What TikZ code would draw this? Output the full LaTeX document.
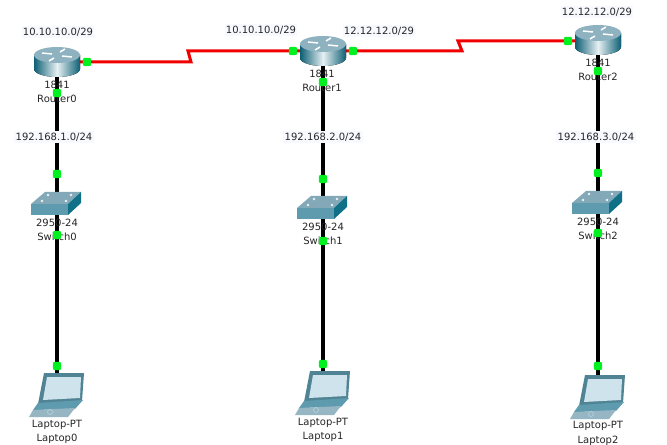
\documentclass[tikz,border=0pt]{standalone}
\usepackage{fontspec}
\setmainfont{DejaVu Sans}
\usepackage{xcolor}
\definecolor{LinkGreen}{HTML}{00F020}
\definecolor{SerialRed}{HTML}{F00000}
\definecolor{LabelTint}{HTML}{F8F9FF}
\definecolor{DeviceTeal}{HTML}{5E9BAE}
\definecolor{DeviceDark}{HTML}{0F7088}
\definecolor{DeviceTop}{HTML}{83A9B8}
\definecolor{RouterTop}{HTML}{8FB2C0}
\definecolor{ScreenBlue}{HTML}{CFE3EC}
\tikzset{
  routericon/.pic={
    \fill[left color=DeviceDark!85!black,right color=DeviceDark!85!black,middle color=white!85!DeviceTeal]
      (-23,-7) -- (-23,7) arc[start angle=180,end angle=0,x radius=23,y radius=8] -- (23,-7) -- cycle;
    \fill[RouterTop] (0,-7) ellipse[x radius=23,y radius=8];
    \draw[white,line width=1.1pt] (-15,-9) -- (-5,-8) (15,-5) -- (5,-6) (-8,-1) -- (-3,-4) (8,-13) -- (3,-10);
  },
  switchicon/.pic={
    \fill[DeviceTop] (-26,0) -- (-12,-12) -- (24,-12) -- (11,0) -- cycle;
    \fill[DeviceTeal] (-26,0) rectangle (11,11);
    \fill[DeviceDark] (11,0) -- (24,-12) -- (24,-1) -- (11,11) -- cycle;
    \fill[white!85!DeviceTop] (-9,-9) circle[radius=1.3] (14,-9) circle[radius=1.3] (-15,-3) circle[radius=1.3] (9,-3) circle[radius=1.3];
  },
  laptopicon/.pic={
    \fill[DeviceTeal!85!black] (-13,-19) -- (27,-19) -- (25,9) -- (-19,12) -- cycle;
    \fill[ScreenBlue] (-10,-15) -- (24,-15) -- (23,6) -- (-14,8) -- cycle;
    \fill[DeviceTeal] (-19,11) -- (26,8) -- (18,17) -- (-24,18) -- cycle;
    \fill[DeviceTop!85!white] (-24,18) -- (18,16) -- (11,25) -- (-28,25) -- cycle;
    \draw[white!60!DeviceTeal,line width=.4pt] (-7,20) circle[radius=2.5];
  }
}
\begin{document}
\begin{tikzpicture}[x=0.75pt,y=-0.75pt,
  device/.style={inner sep=0pt,minimum size=1pt},
  caption/.style={font=\fontsize{7.5}{9}\selectfont,inner sep=0pt,text=black!85},
  netlabel/.style={font=\fontsize{7.5}{9}\selectfont,inner sep=1pt,fill=LabelTint,text=black!85},
  serial/.style={draw=SerialRed,line width=2.25pt},
  copper/.style={draw=black,line width=2.4pt},
  linkdot/.style={rectangle,rounded corners=1.5pt,fill=LinkGreen,inner sep=0pt,minimum size=6.2pt}]
\useasboundingbox[fill=white] (0,0) rectangle (667,445);
% devices
\node[device] (Router0) at (57,62) {};
\node[device] (Router1) at (323,51) {};
\node[device] (Router2) at (598,40) {};
\node[device] (Switch0) at (57,204) {};
\node[device] (Switch1) at (323,208) {};
\node[device] (Switch2) at (598,203) {};
\node[device] (Laptop0) at (57,392) {};
\node[device] (Laptop1) at (323,390) {};
\node[device] (Laptop2) at (598,394) {};
\coordinate (kink0a) at (191,62);
\coordinate (kink0b) at (188,51);
\coordinate (kink1a) at (462,51);
\coordinate (kink1b) at (458,41);
% links
\draw[serial] (Router0) -- (kink0a) -- (kink0b) -- (Router1);
\draw[serial] (Router1) -- (kink1a) -- (kink1b) -- (kink1b -| Router2) -- (Router2);
\draw[copper] (Router0) -- (Switch0);
\draw[copper] (Switch0) -- (Laptop0);
\draw[copper] (Router1) -- (Switch1);
\draw[copper] (Switch1) -- (Laptop1);
\draw[copper] (Router2) -- (Switch2);
\draw[copper] (Switch2) -- (Laptop2);
% icons
\foreach \r in {Router0,Router1,Router2} \pic at (\r) {routericon};
\foreach \s in {Switch0,Switch1,Switch2} \pic at (\s) {switchicon};
\foreach \l in {Laptop0,Laptop1,Laptop2} \pic at (\l) {laptopicon};
% captions
\node[caption] (model0) at (57,85) {1841};
\node[caption] (name0) at (57,99) {Router0};
\node[caption] (model1) at (322,74) {1841};
\node[caption] (name1) at (322,88) {Router1};
\node[caption] (model2) at (598,63) {1841};
\node[caption] (name2) at (598,77) {Router2};
\node[caption] (swmodel0) at (57,223) {2950-24};
\node[caption] (swname0) at (57,237) {Switch0};
\node[caption] (swmodel1) at (323,227) {2950-24};
\node[caption] (swname1) at (323,241) {Switch1};
\node[caption] (swmodel2) at (598,222) {2950-24};
\node[caption] (swname2) at (598,236) {Switch2};
\node[caption] (ptmodel0) at (57,425) {Laptop-PT};
\node[caption] (ptname0) at (57,439) {Laptop0};
\node[caption] (ptmodel1) at (323,423) {Laptop-PT};
\node[caption] (ptname1) at (323,437) {Laptop1};
\node[caption] (ptmodel2) at (598,426) {Laptop-PT};
\node[caption] (ptname2) at (598,441) {Laptop2};
% addresses
\node[netlabel] (wan0) at (58,32) {10.10.10.0/29};
\node[netlabel] (wan1) at (261,30) {10.10.10.0/29};
\node[netlabel] (wan2) at (379,31) {12.12.12.0/29};
\node[netlabel] (wan3) at (597,12) {12.12.12.0/29};
\node[netlabel] (lan0) at (54,137) {192.168.1.0/24};
\node[netlabel] (lan1) at (323,137) {192.168.2.0/24};
\node[netlabel] (lan2) at (596,137) {192.168.3.0/24};
% link lights
\foreach \x/\y in {87/62,57/93,57/174,57/235,57/366,293/51,353/51,323/82,323/179,323/241,323/364,568/41,598/71,598/173,598/233,598/366}
  \node[linkdot] at (\x,\y) {};
\end{tikzpicture}
\end{document}
